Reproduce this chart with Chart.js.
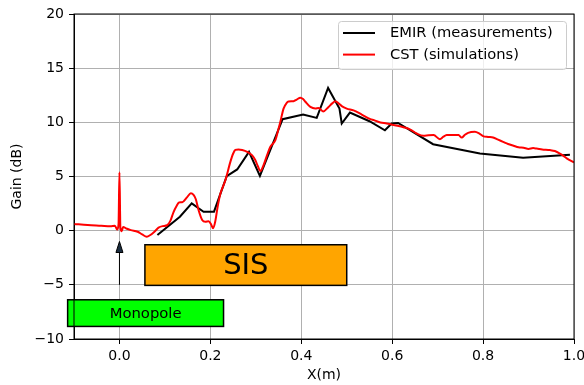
<!DOCTYPE html>
<html>
<head>
<meta charset="utf-8">
<script src="https://cdn.jsdelivr.net/npm/chart.js@4"></script>
<style>
  html, body { margin: 0; padding: 0; background: #fff; }
  #chart { display: block; }
</style>
</head>
<body>
<canvas id="chart" width="584" height="385"></canvas>
<script>
// EMIR measured gain along the axis
const emirX = [0.0835, 0.133, 0.159, 0.185, 0.208, 0.236, 0.259, 0.285, 0.309, 0.359, 0.404, 0.434, 0.459, 0.484, 0.489, 0.507, 0.550, 0.584, 0.599, 0.613, 0.690, 0.793, 0.888, 0.991];
const emirY = [-0.40, 1.29, 2.52, 1.75, 1.75, 5.04, 5.65, 7.27, 5.06, 10.29, 10.72, 10.41, 13.17, 11.27, 9.89, 10.90, 10.10, 9.27, 9.89, 9.94, 7.98, 7.13, 6.72, 7.00];

// CST simulated gain
const cstX = [-0.100, -0.070, -0.040, -0.020, -0.010, -0.005, -0.002, 0.000, 0.002, 0.005, 0.008, 0.015, 0.025, 0.040, 0.050, 0.060, 0.068, 0.077, 0.086, 0.095, 0.105, 0.112, 0.119, 0.126, 0.131, 0.138, 0.149, 0.157, 0.163, 0.168, 0.174, 0.182, 0.189, 0.196, 0.202, 0.206, 0.211, 0.216, 0.222, 0.233, 0.244, 0.250, 0.255, 0.262, 0.270, 0.281, 0.292, 0.299, 0.304, 0.310, 0.317, 0.325, 0.332, 0.343, 0.350, 0.354, 0.361, 0.368, 0.372, 0.383, 0.390, 0.398, 0.404, 0.409, 0.420, 0.431, 0.438, 0.448, 0.460, 0.468, 0.475, 0.482, 0.489, 0.500, 0.515, 0.533, 0.552, 0.560, 0.574, 0.588, 0.603, 0.614, 0.625, 0.640, 0.654, 0.669, 0.680, 0.691, 0.705, 0.712, 0.720, 0.735, 0.746, 0.753, 0.760, 0.767, 0.782, 0.792, 0.800, 0.811, 0.822, 0.833, 0.844, 0.855, 0.867, 0.878, 0.889, 0.900, 0.910, 0.918, 0.930, 0.947, 0.958, 0.969, 0.977, 0.984, 1.000];
const cstY = [0.62, 0.52, 0.45, 0.40, 0.45, 0.10, 0.60, 5.40, 0.30, -0.05, 0.35, 0.20, 0.05, -0.10, -0.35, -0.55, -0.40, -0.10, 0.28, 0.42, 0.50, 0.90, 1.72, 2.30, 2.60, 2.62, 3.10, 3.45, 3.30, 2.90, 1.90, 0.98, 0.82, 0.86, 0.55, 0.22, 0.90, 2.20, 3.40, 4.65, 6.35, 7.10, 7.45, 7.50, 7.45, 7.28, 6.95, 6.50, 6.00, 5.50, 6.05, 7.00, 7.75, 8.35, 9.40, 10.05, 11.27, 11.80, 11.92, 11.95, 12.10, 12.28, 12.15, 11.90, 11.42, 11.27, 11.33, 11.00, 11.42, 11.75, 11.95, 11.75, 11.50, 11.27, 11.10, 10.72, 10.30, 10.20, 9.98, 9.90, 9.75, 9.67, 9.55, 9.33, 8.97, 8.76, 8.80, 8.82, 8.45, 8.65, 8.82, 8.83, 8.82, 8.60, 8.85, 9.03, 9.12, 8.95, 8.73, 8.65, 8.60, 8.40, 8.20, 8.00, 7.84, 7.70, 7.65, 7.55, 7.62, 7.58, 7.50, 7.44, 7.35, 7.12, 6.90, 6.67, 6.30];

const xTicks = [0, 0.2, 0.4, 0.6, 0.8, 1.0];
const xTickLabels = ['0.0', '0.2', '0.4', '0.6', '0.8', '1.0'];
const yTicks = [-10, -5, 0, 5, 10, 15, 20];
const yTickLabels = ['\u221210', '\u22125', '0', '5', '10', '15', '20'];

const seriesNames = ['EMIR (measurements)', 'CST (simulations)'];

// labelled blocks, in data units: [x0, x1, y0, y1]
const monopoleBox = [-0.114, 0.229, -8.84, -6.38];
const sisBox = [0.056, 0.5, -5.05, -1.3];
// arrow pointing at the feed: [x, yFrom, yTo]
const feedArrow = [0, -5, -1];

const FONT = '"DejaVu Sans", sans-serif';
Chart.defaults.font.family = FONT;
Chart.defaults.color = '#000';

const toPoints = (xs, ys) => xs.map((x, i) => ({ x, y: ys[i] }));

const decorations = {
  id: 'decorations',
  afterDatasetsDraw(chart) {
    const { ctx, chartArea: a, scales: { x, y } } = chart;

    const box = (b, fill, label, size) => {
      const x0 = x.getPixelForValue(b[0]), x1 = x.getPixelForValue(b[1]);
      const y0 = y.getPixelForValue(b[2]), y1 = y.getPixelForValue(b[3]);
      ctx.save();
      ctx.fillStyle = fill;
      ctx.strokeStyle = '#000';
      ctx.lineWidth = 1.5;
      ctx.fillRect(x0, y1, x1 - x0, y0 - y1);
      ctx.strokeRect(x0, y1, x1 - x0, y0 - y1);
      ctx.fillStyle = '#000';
      ctx.font = size + 'px ' + FONT;
      ctx.textAlign = 'center';
      ctx.textBaseline = 'middle';
      ctx.fillText(label, (x0 + x1) / 2, (y0 + y1) / 2 + 1);
      ctx.restore();
    };
    box(monopoleBox, '#00ff00', 'Monopole', 14.8);
    box(sisBox, '#ffa500', 'SIS', 29);

    // arrow up to the spike at x = 0
    const ax = x.getPixelForValue(feedArrow[0]);
    const ay0 = y.getPixelForValue(feedArrow[1]);
    const ay1 = y.getPixelForValue(feedArrow[2]);
    ctx.save();
    ctx.strokeStyle = '#000';
    ctx.lineWidth = 1;
    ctx.beginPath();
    ctx.moveTo(ax, ay0);
    ctx.lineTo(ax, ay1 + 8);
    ctx.stroke();
    ctx.fillStyle = '#1c2e40';
    ctx.beginPath();
    ctx.moveTo(ax, ay1);
    ctx.lineTo(ax - 3.5, ay1 + 11);
    ctx.lineTo(ax + 3.5, ay1 + 11);
    ctx.closePath();
    ctx.fill();
    ctx.stroke();
    ctx.restore();

    // frame on all four sides
    ctx.save();
    ctx.strokeStyle = '#000';
    ctx.lineWidth = 1;
    ctx.strokeRect(a.left, a.top, a.right - a.left, a.bottom - a.top);
    ctx.restore();

    // legend box in the upper right
    const lw = 228, lh = 48;
    const lx = a.right - 8 - lw, ly = a.top + 7;
    ctx.save();
    ctx.fillStyle = 'rgba(255,255,255,0.8)';
    ctx.strokeStyle = '#cccccc';
    ctx.lineWidth = 1;
    ctx.beginPath();
    ctx.roundRect(lx + 0.5, ly + 0.5, lw, lh, 3);
    ctx.fill();
    ctx.stroke();
    ctx.font = '14.7px ' + FONT;
    ctx.textBaseline = 'middle';
    ctx.textAlign = 'left';
    chart.data.datasets.forEach((ds, i) => {
      const yy = ly + 12 + i * 21.6;
      ctx.strokeStyle = ds.borderColor;
      ctx.lineWidth = 2;
      ctx.beginPath();
      ctx.moveTo(lx + 5, yy);
      ctx.lineTo(lx + 37, yy);
      ctx.stroke();
      ctx.fillStyle = '#000';
      ctx.fillText(ds.label, lx + 52, yy + 0.5);
    });
    ctx.restore();
  }
};

new Chart(document.getElementById('chart'), {
  type: 'line',
  data: {
    datasets: [
      { label: seriesNames[0], data: toPoints(emirX, emirY), borderColor: '#000000', borderWidth: 2, pointRadius: 0, tension: 0, order: 1 },
      { label: seriesNames[1], data: toPoints(cstX, cstY), borderColor: '#ff0000', borderWidth: 2, pointRadius: 0, cubicInterpolationMode: 'monotone', order: 0 }
    ]
  },
  options: {
    responsive: false,
    animation: false,
    events: [],
    layout: { padding: { left: 0, right: 10, top: 14, bottom: 0 } },
    plugins: { legend: { display: false }, tooltip: { enabled: false } },
    scales: {
      x: {
        type: 'linear',
        min: -0.1,
        max: 1.0,
        afterBuildTicks: s => { s.ticks = xTicks.map(v => ({ value: v })); },
        afterFit: s => { s.height = 46; s.paddingLeft = 0; s.paddingRight = 0; },
        ticks: { font: { size: 14 }, padding: 4, maxRotation: 0, callback: (v, i) => xTickLabels[i] },
        grid: { color: '#b0b0b0', lineWidth: 1, tickColor: '#000', tickLength: 5, tickWidth: 1 },
        border: { color: '#000', width: 1 },
        title: { display: true, text: 'X(m)', font: { size: 14 }, padding: { top: 0, bottom: 1 } }
      },
      y: {
        min: -10,
        max: 20,
        afterBuildTicks: s => { s.ticks = yTicks.map(v => ({ value: v })); },
        afterFit: s => { s.width = 74; s.paddingTop = 0; s.paddingBottom = 0; },
        ticks: { font: { size: 14 }, padding: 5, callback: (v, i) => yTickLabels[i] },
        grid: { color: '#b0b0b0', lineWidth: 1, tickColor: '#000', tickLength: 5, tickWidth: 1 },
        border: { color: '#000', width: 1 },
        title: { display: true, text: 'Gain (dB)', font: { size: 14 }, padding: { top: 9, bottom: 0 } }
      }
    }
  },
  plugins: [decorations]
});
</script>
</body>
</html>
